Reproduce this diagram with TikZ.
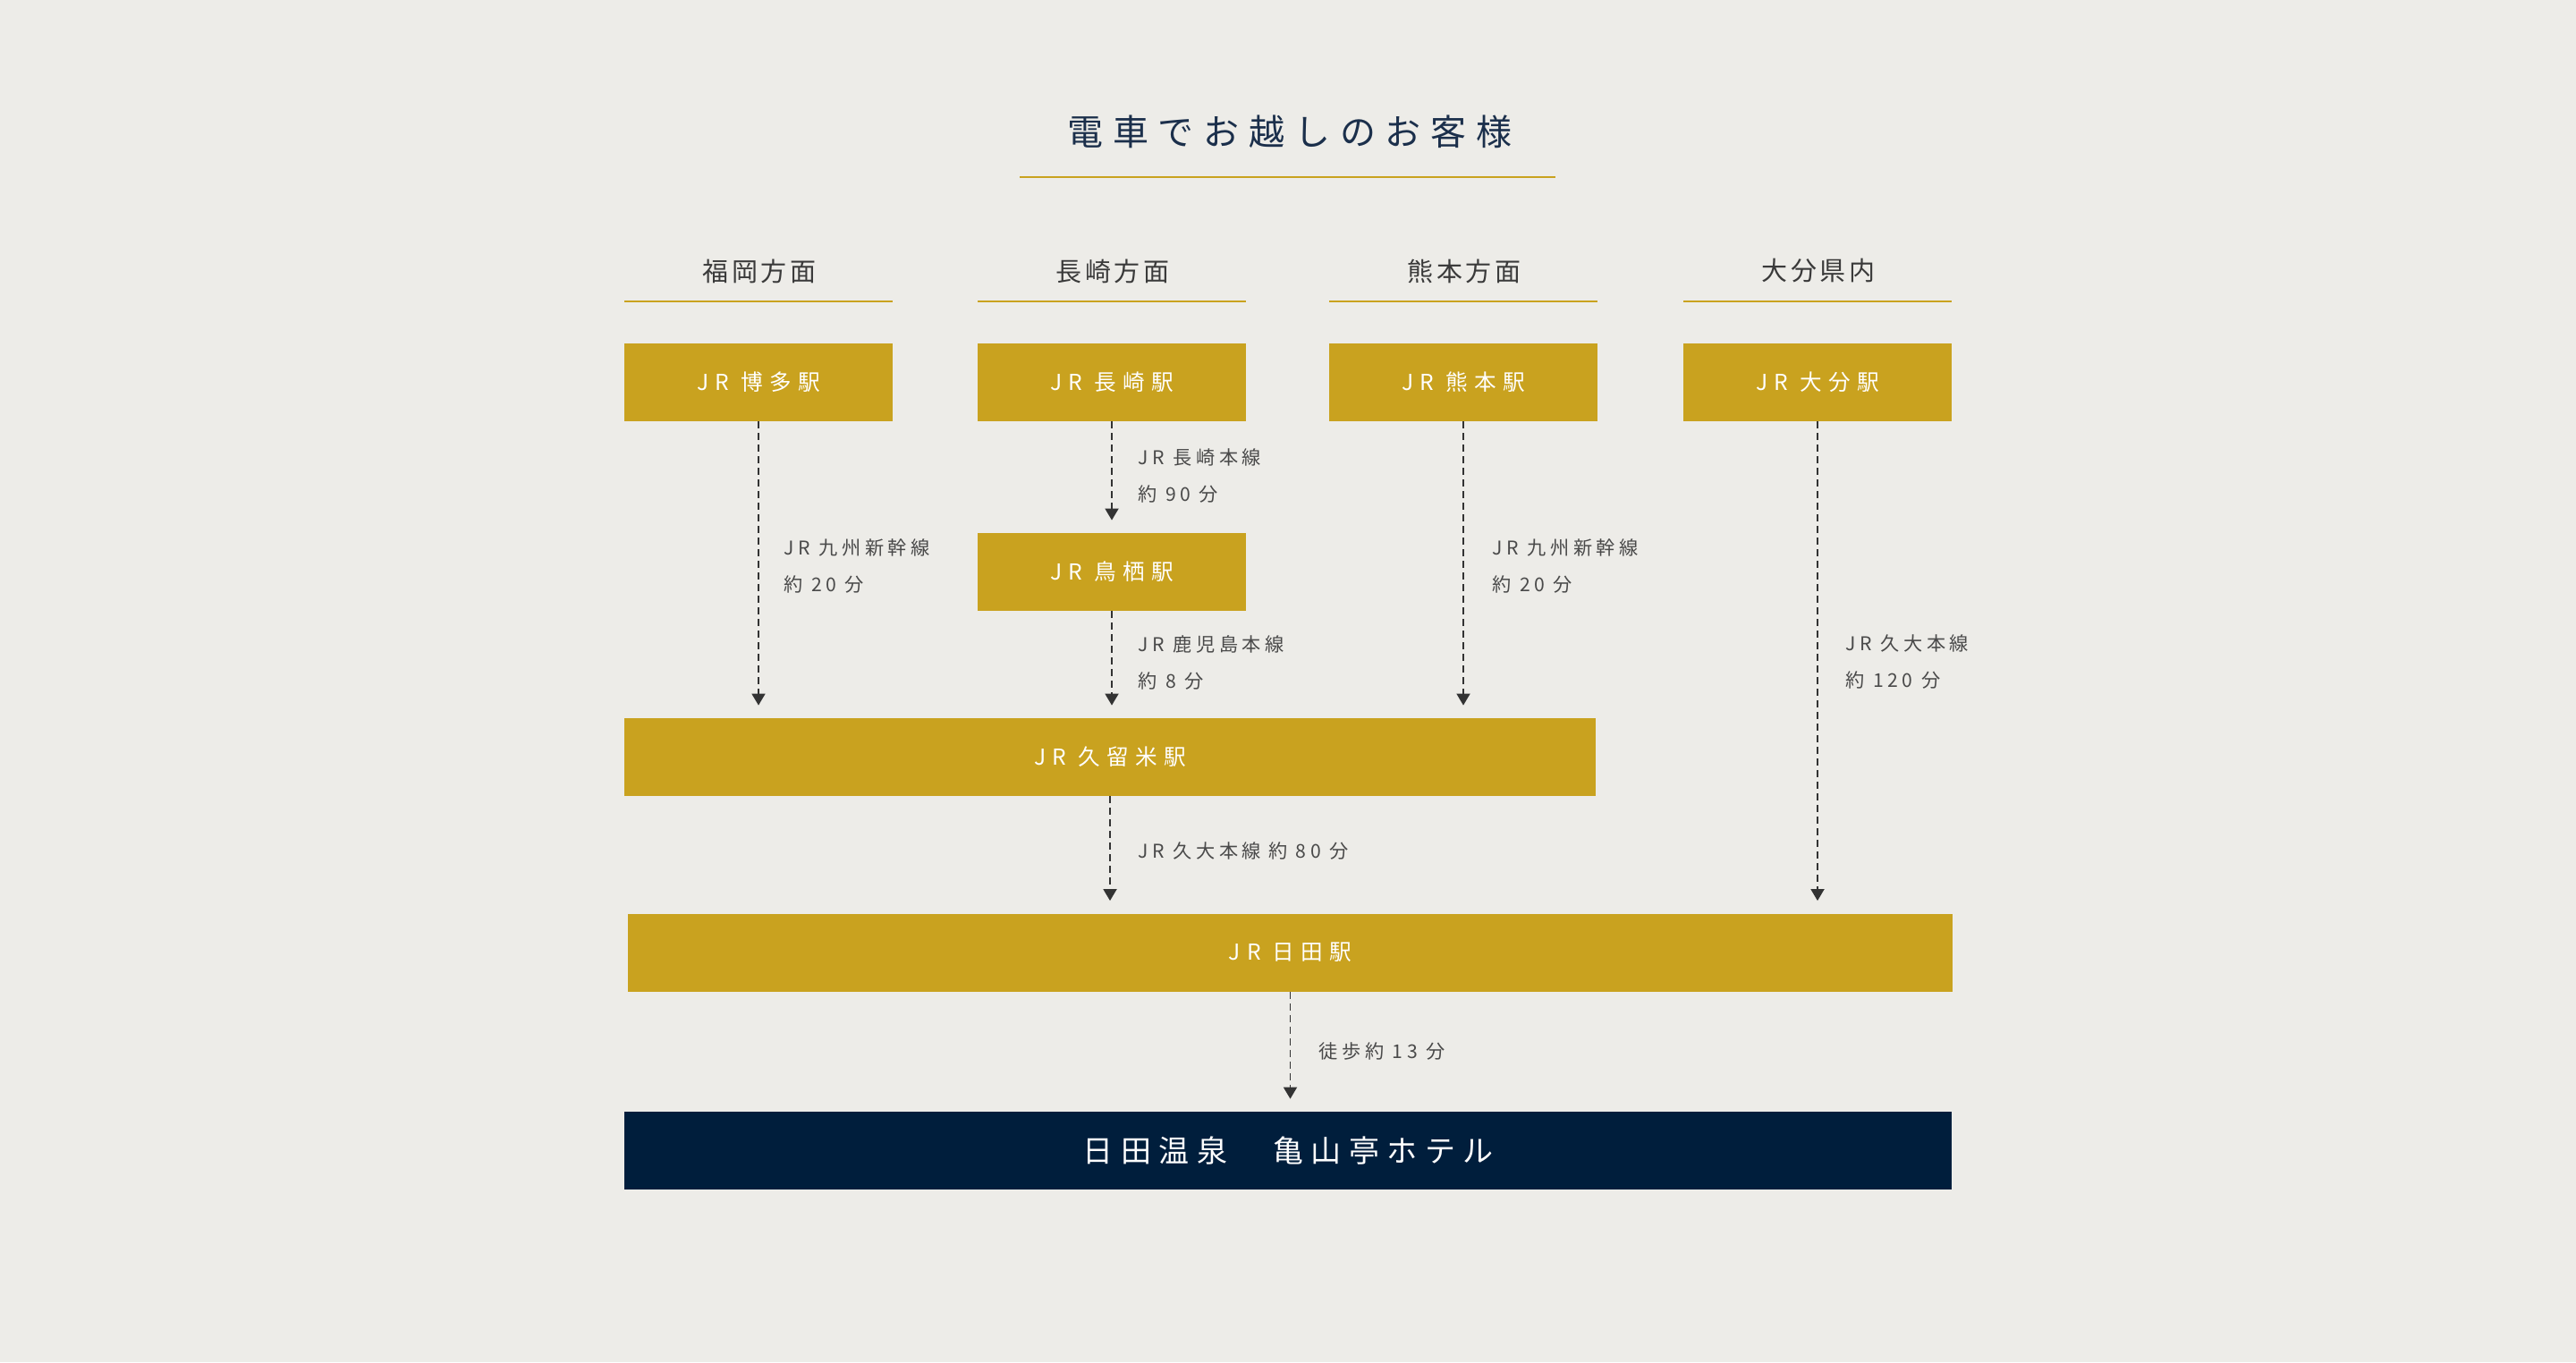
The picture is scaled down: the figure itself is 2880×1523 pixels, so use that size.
\documentclass[tikz,border=0pt]{standalone}
\usepackage{fontspec}
\usetikzlibrary{arrows.meta}
\setmainfont{Noto Sans CJK JP}
\newfontfamily\titlefont[LetterSpace=27]{Noto Sans CJK JP}
\newfontfamily\hdrfont[LetterSpace=12]{Noto Sans CJK JP}
\newfontfamily\boxfont[LetterSpace=30]{Noto Sans CJK JP}
\newfontfamily\lblfont[LetterSpace=22]{Noto Sans CJK JP}
\newfontfamily\hotelfont[LetterSpace=25]{Noto Sans CJK JP}
\definecolor{bg}{HTML}{EDECE8}
\definecolor{gold}{HTML}{C9A21F}
\definecolor{navy}{HTML}{001E3C}
\definecolor{titlecol}{HTML}{1B2F4B}
\definecolor{hdrgray}{HTML}{3A3A3A}
\definecolor{lblgray}{HTML}{4A4A4A}
\definecolor{arrowgray}{HTML}{333333}
\begin{document}
\begin{tikzpicture}[x=0.5pt,y=-0.5pt,
  stationbox/.style={fill=gold, text=white, inner sep=0pt, minimum height=43.5pt,
    font=\boxfont\fontsize{12.3pt}{15pt}\selectfont},
  hotelbox/.style={fill=navy, text=white, inner sep=0pt, minimum height=43.5pt,
    font=\hotelfont\fontsize{17pt}{20pt}\selectfont},
  hdr/.style={text=hdrgray, inner sep=0pt, font=\hdrfont\fontsize{14.5pt}{17pt}\selectfont},
  lbl/.style={text=lblgray, anchor=west, align=left, inner sep=0pt,
    font=\lblfont\fontsize{10.6pt}{20.5pt}\selectfont},
  conn/.style={draw=arrowgray, line width=0.9pt, dash pattern=on 4pt off 2.5pt,
    -{Triangle[width=7.5pt,length=6.5pt]}, shorten >=7pt},
  rule/.style={draw=gold, line width=1pt}]
\useasboundingbox (0,0) rectangle (2880,1523);
\fill[bg] (0,0) rectangle (2880,1523);

% title
\node[text=titlecol, inner sep=0pt, font=\titlefont\fontsize{20pt}{24pt}\selectfont] (title) at (1442,147) {電車でお越しのお客様};
\draw[rule] (1140,198) -- (1739,198);

% headers
\node[hdr] (h1) at (849,303) {福岡方面};
\node[hdr] (h2) at (1244,303) {長崎方面};
\node[hdr] (h3) at (1637,303) {熊本方面};
\node[hdr] (h4) at (2033,303) {大分県内};
\draw[rule] (698,337) -- (998,337);
\draw[rule] (1093,337) -- (1393,337);
\draw[rule] (1486,337) -- (1786,337);
\draw[rule] (1882,337) -- (2182,337);

% stations
\node[stationbox, minimum width=150pt] (hakata) at (848,427.5) {JR 博多駅};
\node[stationbox, minimum width=150pt] (nagasaki) at (1243,427.5) {JR 長崎駅};
\node[stationbox, minimum width=150pt] (kumamoto) at (1636,427.5) {JR 熊本駅};
\node[stationbox, minimum width=150pt] (oita) at (2032,427.5) {JR 大分駅};
\node[stationbox, minimum width=150pt] (tosu) at (1243,639.5) {JR 鳥栖駅};
\node[stationbox, minimum width=543pt] (kurume) at (1241,846.5) {JR 久留米駅};
\node[stationbox, minimum width=740.5pt] (hita) at (1442.5,1065) {JR 日田駅};
\node[hotelbox, minimum width=742pt] (hotel) at (1440,1286.5) {日田温泉　亀山亭ホテル};

% connectors
\draw[conn] (hakata.south) -- (hakata.south |- kurume.north);
\draw[conn] (nagasaki.south) -- (tosu.north);
\draw[conn] (tosu.south) -- (tosu.south |- kurume.north);
\draw[conn] (kumamoto.south) -- (kumamoto.south |- kurume.north);
\draw[conn] (oita.south) -- (oita.south |- hita.north);
\draw[conn] (kurume.south) -- (kurume.south |- hita.north);
\draw[conn] (hita.south) -- (hita.south |- hotel.north);

% labels
\node[lbl] (l1) at (876,632.5) {JR 九州新幹線\\約 20 分};
\node[lbl] (l2) at (1272,532) {JR 長崎本線\\約 90 分};
\node[lbl] (l3) at (1272,741) {JR 鹿児島本線\\約 8 分};
\node[lbl] (l4) at (1668,632.5) {JR 九州新幹線\\約 20 分};
\node[lbl] (l5) at (2063,740) {JR 久大本線\\約 120 分};
\node[lbl] (l6) at (1272,951) {JR 久大本線\hspace{4pt}約 80 分};
\node[lbl] (l7) at (1474,1175) {徒歩約 13 分};
\end{tikzpicture}
\end{document}
